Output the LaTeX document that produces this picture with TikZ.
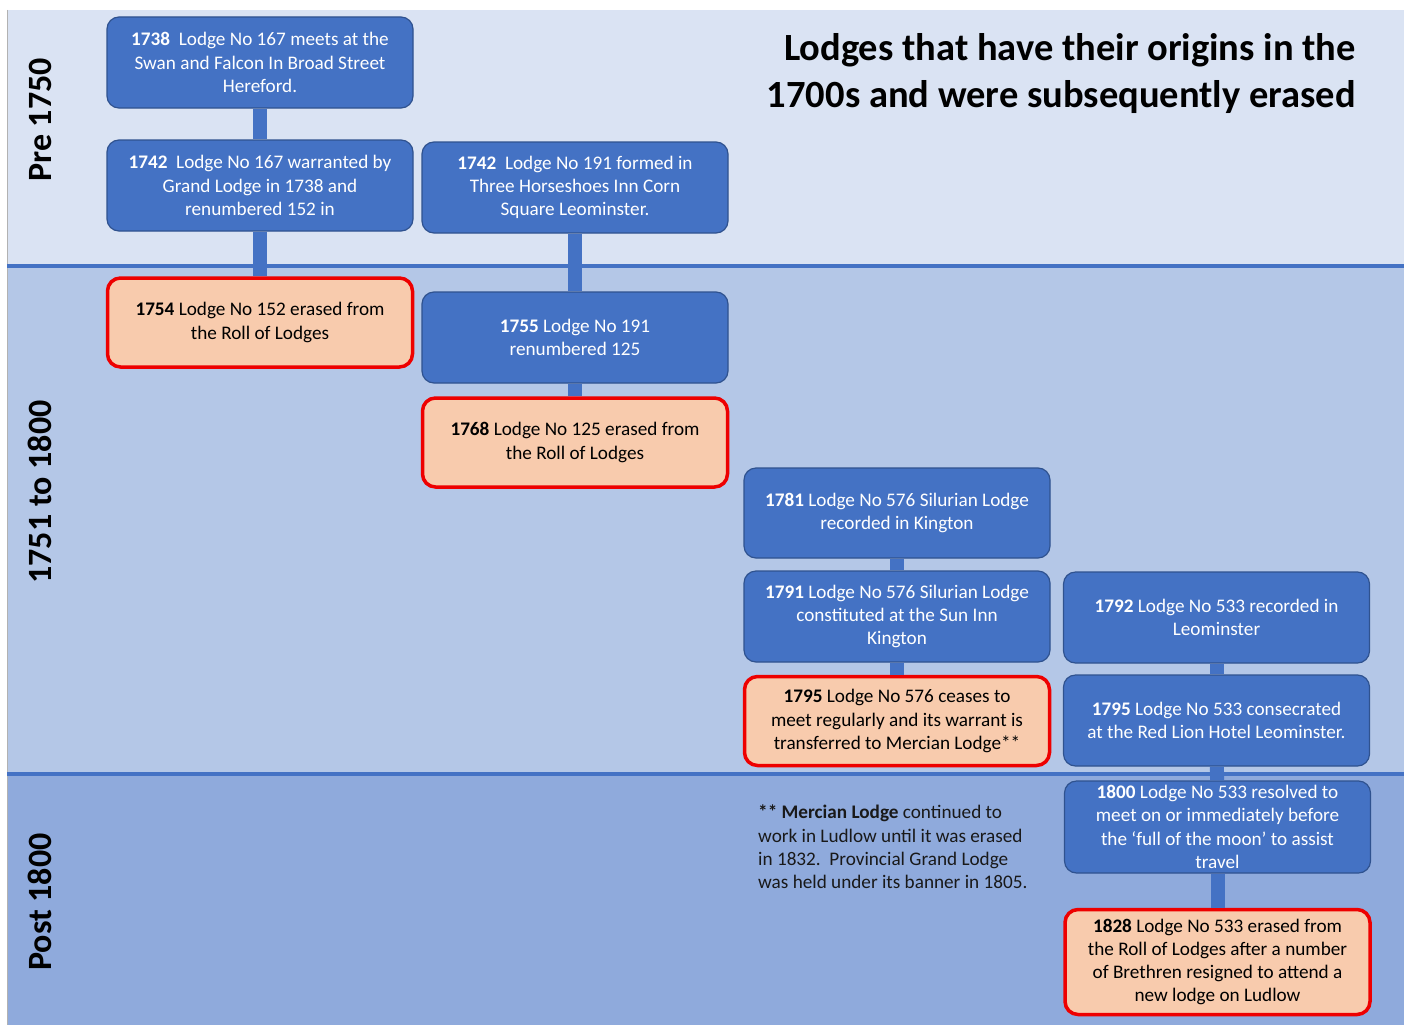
\documentclass[tikz,border=0pt]{standalone}
\usepackage{fontspec}
\setmainfont{Carlito}
\definecolor{bandA}{HTML}{DAE3F3}
\definecolor{bandB}{HTML}{B4C7E7}
\definecolor{bandC}{HTML}{8FAADC}
\definecolor{boxblue}{HTML}{4472C4}
\definecolor{boxedge}{HTML}{2F528F}
\definecolor{peach}{HTML}{F8CBAD}
\definecolor{redline}{HTML}{EE0000}
\begin{document}
\begin{tikzpicture}[x=1pt,y=-1pt,
  every node/.style={font=\fontsize{19.2}{23.3}\selectfont},
  bluebox/.style={draw=boxedge, line width=1.2pt, fill=boxblue, rounded corners=12pt,
    minimum width=306pt, minimum height=91pt, align=center, text=white, inner sep=2pt},
  redbox/.style={draw=redline, line width=3.5pt, fill=peach, rounded corners=13pt,
    minimum width=305pt, minimum height=89pt, align=center, text=black, inner sep=2pt},
  bar/.style={draw=boxblue, line width=14pt},
  sepline/.style={draw=boxblue, line width=4pt},
  bandlabel/.style={rotate=90, font=\fontsize{34}{40}\selectfont\bfseries, text=black}
]
\useasboundingbox (0,0) rectangle (1404,1025);
\fill[white] (0,0) rectangle (1404,1025);
% bands
\fill[bandA] (7,10) rectangle (1404,266);
\fill[bandB] (7,266) rectangle (1404,774);
\fill[bandC] (7,774) rectangle (1404,1025);
\draw[gray!60, line width=0.8pt] (7.4,10) -- (7.4,1025);
\draw[sepline] (7,266) -- (1404,266);
\draw[sepline] (7,774) -- (1404,774);

% band labels
\node[bandlabel] (lpre) at (40,120) {Pre 1750};
\node[bandlabel] (lmid) at (40,492) {1751 to 1800};
\node[bandlabel] (lpost) at (40,902) {Post 1800};

% title
\node[anchor=north east, align=right, inner sep=0pt,
  font=\fontsize{38.5}{47}\selectfont\bfseries] (title) at (1356,33)
  {Lodges that have their origins in the\\1700s and were subsequently erased};

% column A
\node[bluebox] (a1) at (260,62.5) {\textbf{1738}\ \ Lodge No 167 meets at the\\Swan and Falcon In Broad Street\\Hereford.};
\node[bluebox] (a2) at (260,185.5) {\textbf{1742}\ \ Lodge No 167 warranted by\\Grand Lodge in 1738 and\\renumbered 152 in};
\node[redbox] (a3) at (260,322.5) {\textbf{1754} Lodge No 152 erased from\\the Roll of Lodges};

% column B
\node[bluebox] (b1) at (575,187.5) {\textbf{1742}\ \ Lodge No 191 formed in\\Three Horseshoes Inn Corn\\Square Leominster.};
\node[bluebox] (b2) at (575,337.5) {\textbf{1755} Lodge No 191\\renumbered 125};
\node[redbox] (b3) at (575,442.5) {\textbf{1768} Lodge No 125 erased from\\the Roll of Lodges};

% column C
\node[bluebox, minimum height=90pt] (c1) at (897,513) {\textbf{1781} Lodge No 576 Silurian Lodge\\recorded in Kington};
\node[bluebox] (c2) at (897,616.5) {\textbf{1791} Lodge No 576 Silurian Lodge\\constituted at the Sun Inn\\Kington};
\node[redbox, minimum height=89pt] (c3) at (897,721) {\textbf{1795} Lodge No 576 ceases to\\meet regularly and its warrant is\\transferred to Mercian Lodge**};

% column D
\node[bluebox] (d1) at (1216.5,617.5) {\textbf{1792} Lodge No 533 recorded in\\Leominster};
\node[bluebox] (d2) at (1216.5,720.5) {\textbf{1795} Lodge No 533 consecrated\\at the Red Lion Hotel Leominster.};
\node[bluebox, minimum height=92pt] (d3) at (1217.5,827) {\textbf{1800} Lodge No 533 resolved to\\meet on or immediately before\\the ‘full of the moon’ to assist\\travel};
\node[redbox, minimum height=105pt] (d4) at (1217.5,962) {\textbf{1828} Lodge No 533 erased from\\the Roll of Lodges after a number\\of Brethren resigned to attend a\\new lodge on Ludlow};

% footnote
\node[anchor=north west, align=left, inner sep=0pt, text=black!90] (note) at (758,805)
  {\textbf{** Mercian Lodge} continued to\\work in Ludlow until it was erased\\in 1832.\ \ Provincial Grand Lodge\\was held under its banner in 1805.};

% connectors
\draw[bar] (a1) -- (a2);
\draw[bar] (a2) -- (a3);
\draw[bar] (b1) -- (b2);
\draw[bar] (b2) -- (b3);
\draw[bar] (c1) -- (c2);
\draw[bar] (c2) -- (c3);
\draw[bar] (d1) -- (d2);
\draw[bar] (d2) -- (d3);
\draw[bar] (d3) -- (d4);
\end{tikzpicture}
\end{document}
